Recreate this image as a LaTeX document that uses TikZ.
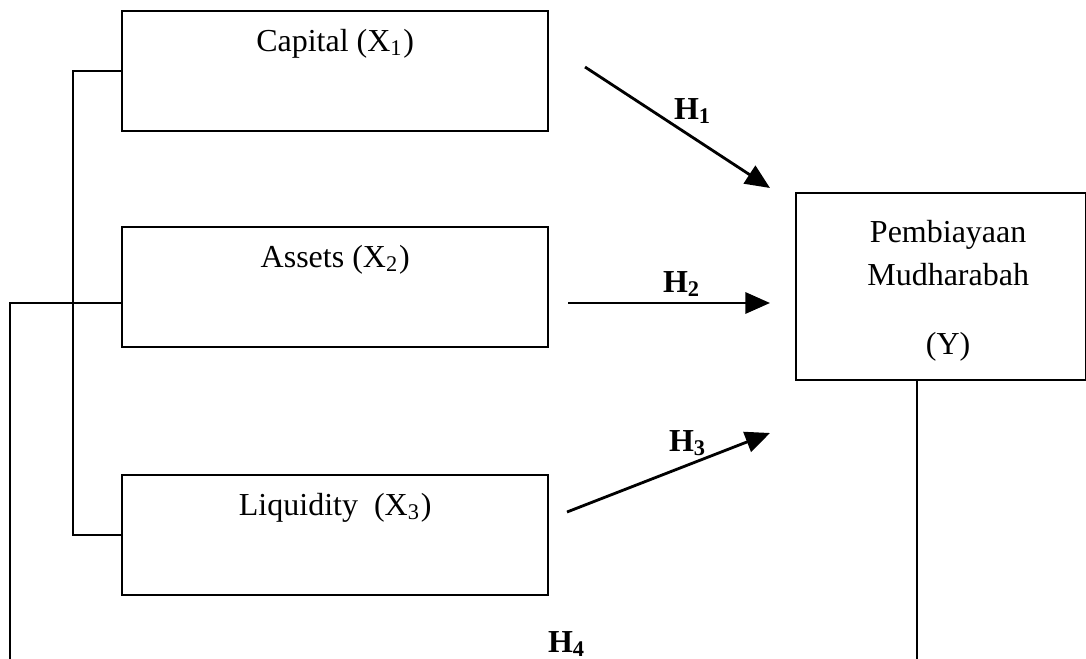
\documentclass[tikz,border=0pt]{standalone}
\usepackage{fontspec}
\setmainfont{Liberation Serif}
\usetikzlibrary{arrows.meta,calc}

\begin{document}
\begin{tikzpicture}[x=0.01cm,y=-0.01cm,line width=0.6pt,
  every node/.style={font=\fontsize{9.1}{12}\selectfont},
  varbox/.style={draw,rectangle,anchor=north west,inner sep=0pt,
    minimum width=4.26cm,minimum height=1.2cm},
  vartext/.style={anchor=center,label distance=-0.34cm},
  hyp/.style={-{Triangle[length=7pt,width=6pt]},line width=0.8pt},
  hlab/.style={font=\fontsize{9.1}{12}\selectfont\bfseries}]
\useasboundingbox (0,0) rectangle (1086,658);
% variables
\node[varbox,label={[vartext]north:Capital (X\textsubscript{1})}] (cap) at (121,10) {};
\node[varbox,label={[vartext]north:Assets (X\textsubscript{2})}] (ast) at (121,226) {};
\node[varbox,label={[vartext]north:Liquidity~~(X\textsubscript{3})}] (liq) at (121,474) {};
\node[draw,rectangle,anchor=north west,inner sep=0pt,minimum width=2.9cm,minimum height=1.87cm,
  label={[anchor=north,align=center,label distance=-0.16cm,xshift=0.07cm]north:Pembiayaan\\Mudharabah\\[2.7mm](Y)}] (y) at (795,192) {};
% hypotheses
\coordinate (a1) at (585,67);  \coordinate (b1) at (770,188);
\coordinate (a2) at (568,303); \coordinate (b2) at (770,303);
\coordinate (a3) at (567,512); \coordinate (b3) at (770,433);
\draw[hyp] (a1) -- (b1);
\draw[hyp] (a2) -- (b2);
\draw[hyp] (a3) -- (b3);
\node[hlab] (h1) at (693,111) {H\textsubscript{1}};
\node[hlab] (h2) at (682,284) {H\textsubscript{2}};
\node[hlab] (h3) at (688,443) {H\textsubscript{3}};
\node[hlab] (h4) at (567,644) {H\textsubscript{4}};
% bracket X1-X3
\draw (cap.west) -| (73,300) |- (liq.west);
% joint path
\coordinate (j) at ($(ast.north west)+(0,77)$);
\draw (j) -- (10,303) -- (10,660);
\coordinate (yb) at ($(y.south west)+(122,0)$);
\draw (yb) -- (917,660);
\end{tikzpicture}
\end{document}
